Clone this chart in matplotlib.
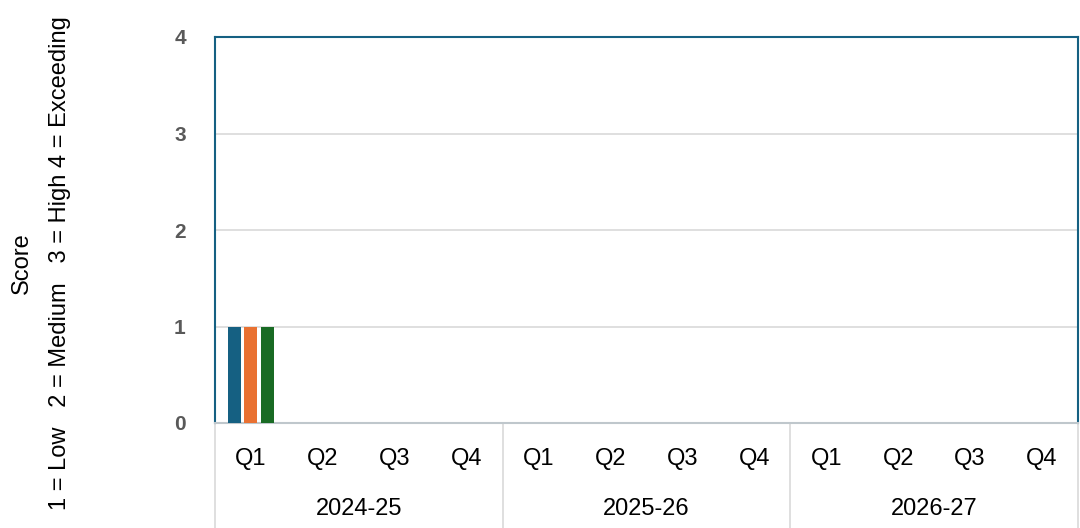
import matplotlib
matplotlib.use("Agg")
import matplotlib.pyplot as plt
import matplotlib.transforms as mtransforms
import numpy as np

plt.rcParams['font.family'] = ['Liberation Sans', 'DejaVu Sans']

years = ["2024-25", "2025-26", "2026-27"]
quarters = ["Q1", "Q2", "Q3", "Q4"]
series_names = ["Series A", "Series B", "Series C"]
series_a = [1, 0, 0, 0, 0, 0, 0, 0, 0, 0, 0, 0]
series_b = [1, 0, 0, 0, 0, 0, 0, 0, 0, 0, 0, 0]
series_c = [1, 0, 0, 0, 0, 0, 0, 0, 0, 0, 0, 0]
colors = ["#156082", "#E97132", "#196B24"]
yticks = [0, 1, 2, 3, 4]

fig = plt.figure(figsize=(10.8, 5.28), dpi=100)
ax = fig.add_axes([215/1080, 105/528, 863/1080, 386/528])

n = len(years) * len(quarters)
x = np.arange(n)
bw = 0.18
step = 0.225
for i, (vals, c) in enumerate(zip([series_a, series_b, series_c], colors)):
    ax.bar(x + (i - 1) * step, vals, width=bw, color=c, zorder=3)

ax.set_xlim(-0.5, n - 0.5)
ax.set_ylim(0, 4)
ax.set_yticks(yticks)
ax.set_yticklabels([str(t) for t in yticks], fontsize=15, fontweight='bold', color='#595959')
ax.tick_params(axis='y', length=0, pad=21)
ax.tick_params(axis='x', length=0, labelbottom=False)
ax.grid(axis='y', color='#D9D9D9', linewidth=1.2, zorder=0)
for side in ['top', 'left', 'right']:
    ax.spines[side].set_color('#156082')
    ax.spines[side].set_linewidth(1.5)
ax.spines['bottom'].set_color('#BFC7CC')
ax.spines['bottom'].set_linewidth(1.5)

trans = mtransforms.blended_transform_factory(ax.transData, fig.transFigure)
for i in range(n):
    ax.text(i, 1 - 459/528, quarters[i % 4], transform=trans, ha='center', va='center',
            fontsize=17, color='#000000')
for j, yr in enumerate(years):
    ax.text(j * 4 + 1.5, 1 - 509/528, yr, transform=trans, ha='center', va='center',
            fontsize=17, color='#000000')
for k in range(len(years) + 1):
    xp = k * 4 - 0.5
    ax.plot([xp, xp], [1 - 423/528, 0], transform=trans, color='#D9D9D9',
            linewidth=1.2, clip_on=False)

fig.text(22/1080, 1 - 263/528, "Score", rotation=90, ha='center', va='center', fontsize=17)
fig.text(60/1080, 1 - 263/528, "1 = Low   2 = Medium   3 = High 4 = Exceeding", rotation=90,
         ha='center', va='center', fontsize=17)

fig.savefig("out.png", dpi=100)
